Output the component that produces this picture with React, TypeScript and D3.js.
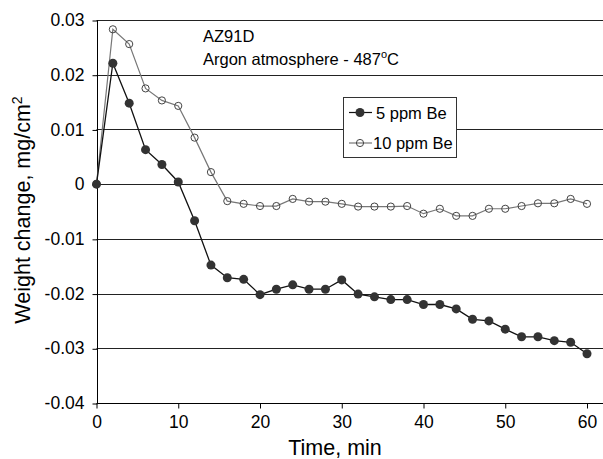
import { useEffect, useRef } from "react";
import * as d3 from "d3";

const times = [0, 2, 4, 6, 8, 10, 12, 14, 16, 18, 20, 22, 24, 26, 28, 30, 32, 34, 36, 38, 40, 42, 44, 46, 48, 50, 52, 54, 56, 58, 60];

const be5 = [
  0, 0.0221, 0.0148, 0.0063, 0.0036, 0.0004, -0.0067, -0.0148, -0.0171, -0.0174, -0.0202,
  -0.0192, -0.0184, -0.0192, -0.0192, -0.0175, -0.0201, -0.0206, -0.0211, -0.0211, -0.022,
  -0.022, -0.0228, -0.0247, -0.025, -0.0265, -0.0279, -0.0279, -0.0286, -0.0289, -0.031,
];

const be10 = [
  0, 0.0283, 0.0256, 0.0175, 0.0153, 0.0143, 0.0085, 0.0022, -0.0031, -0.0036, -0.004,
  -0.004, -0.0027, -0.0032, -0.0032, -0.0036, -0.0041, -0.0041, -0.0041, -0.004, -0.0054,
  -0.0045, -0.0058, -0.0058, -0.0045, -0.0045, -0.004, -0.0035, -0.0035, -0.0027, -0.0036,
];

const xTicks = [0, 10, 20, 30, 40, 50, 60];
const yTicks = [0.03, 0.02, 0.01, 0, -0.01, -0.02, -0.03, -0.04];
const yTickLabels = ["0.03", "0.02", "0.01", "0", "-0.01", "-0.02", "-0.03", "-0.04"];

function App() {
  const ref = useRef<SVGSVGElement>(null);

  useEffect(() => {
    const svg = d3.select(ref.current);
    svg.selectAll("*").remove();

    const width = 603;
    const font = "'Liberation Sans', Arial, sans-serif";

    const x = d3.scaleLinear().domain([0, 60]).range([96.5, 587]);
    const y = d3.scaleLinear().domain([-0.04, 0.03]).range([403, 20]);

    // horizontal grid lines
    svg
      .append("g")
      .selectAll("line")
      .data(yTicks.filter((t) => t > -0.04))
      .enter()
      .append("line")
      .attr("x1", x(0))
      .attr("x2", width)
      .attr("y1", (d) => Math.round(y(d)) + 0.5)
      .attr("y2", (d) => Math.round(y(d)) + 0.5)
      .attr("stroke", "#222")
      .attr("stroke-width", 1);

    // y axis
    const yAxis = svg
      .append("g")
      .attr("transform", `translate(${Math.round(x(0)) + 0.5},0)`)
      .call(
        d3
          .axisLeft(y)
          .tickValues(yTicks)
          .tickSize(5)
          .tickPadding(8)
          .tickFormat((_, i) => yTickLabels[i])
      );
    yAxis.select(".domain").attr("stroke", "#000").attr("d", `M0,${y(0.03)}V${y(-0.04)}`);
    yAxis.selectAll(".tick line").attr("stroke", "#000").attr("transform", "translate(0,0.5)");
    yAxis
      .selectAll("text")
      .attr("fill", "#000")
      .style("font-family", font)
      .style("font-size", "17.5px");

    // x axis
    const xAxis = svg
      .append("g")
      .attr("transform", `translate(0,${Math.round(y(-0.04)) + 0.5})`)
      .call(d3.axisBottom(x).tickValues(xTicks).tickSize(5).tickPadding(7).tickFormat(d3.format("d")));
    xAxis.select(".domain").attr("stroke", "#000").attr("d", `M${x(0)},0H${width}`);
    xAxis.selectAll(".tick line").attr("stroke", "#000");
    xAxis
      .selectAll("text")
      .attr("fill", "#000")
      .style("font-family", font)
      .style("font-size", "17.5px");

    const line = d3
      .line<number>()
      .x((_, i) => x(times[i]))
      .y((d) => y(d));

    // 10 ppm series (open)
    svg
      .append("path")
      .datum(be10)
      .attr("fill", "none")
      .attr("stroke", "#777")
      .attr("stroke-width", 1.2)
      .attr("d", line);
    svg
      .append("g")
      .selectAll("circle")
      .data(be10)
      .enter()
      .append("circle")
      .attr("cx", (_, i) => x(times[i]))
      .attr("cy", (d) => y(d))
      .attr("r", 3.6)
      .attr("fill", "none")
      .attr("stroke", "#444")
      .attr("stroke-width", 1);

    // 5 ppm series (filled)
    svg
      .append("path")
      .datum(be5)
      .attr("fill", "none")
      .attr("stroke", "#111")
      .attr("stroke-width", 1.3)
      .attr("d", line);
    svg
      .append("g")
      .selectAll("circle")
      .data(be5)
      .enter()
      .append("circle")
      .attr("cx", (_, i) => x(times[i]))
      .attr("cy", (d) => y(d))
      .attr("r", 4.5)
      .attr("fill", "#333");

    // annotation
    svg
      .append("text")
      .attr("x", 203)
      .attr("y", 42)
      .attr("font-family", font)
      .attr("font-size", 16.5)
      .text("AZ91D");
    const t2 = svg
      .append("text")
      .attr("x", 203)
      .attr("y", 65)
      .attr("font-family", font)
      .attr("font-size", 16.5);
    t2.append("tspan").text("Argon atmosphere - 487");
    t2.append("tspan").attr("dy", -7).attr("font-size", 11).text("o");
    t2.append("tspan").attr("dy", 7).text("C");

    // legend
    const lg = svg.append("g");
    lg.append("rect")
      .attr("x", 343.5)
      .attr("y", 97.5)
      .attr("width", 113)
      .attr("height", 60)
      .attr("fill", "#fff")
      .attr("stroke", "#333");
    const rows = [
      { label: "5 ppm Be", yy: 112.5, filled: true, tx: 376 },
      { label: "10 ppm Be", yy: 143, filled: false, tx: 373 },
    ];
    rows.forEach((r) => {
      lg.append("line")
        .attr("x1", 349)
        .attr("x2", 372)
        .attr("y1", r.yy)
        .attr("y2", r.yy)
        .attr("stroke", r.filled ? "#111" : "#777")
        .attr("stroke-width", 1.2);
      lg.append("circle")
        .attr("cx", 360)
        .attr("cy", r.yy)
        .attr("r", r.filled ? 4.5 : 3.6)
        .attr("fill", r.filled ? "#333" : "none")
        .attr("stroke", r.filled ? "none" : "#444");
      lg.append("text")
        .attr("x", r.tx)
        .attr("y", r.yy + 6)
        .attr("font-family", font)
        .attr("font-size", 16.5)
        .text(r.label);
    });

    // axis titles
    svg
      .append("text")
      .attr("x", 335)
      .attr("y", 455)
      .attr("text-anchor", "middle")
      .attr("font-family", font)
      .attr("font-size", 21.5)
      .text("Time, min");
    const yt = svg
      .append("text")
      .attr("transform", "translate(30,210) rotate(-90)")
      .attr("text-anchor", "middle")
      .attr("font-family", font)
      .attr("font-size", 21.5);
    yt.append("tspan").text("Weight change, mg/cm");
    yt.append("tspan").attr("dy", -8).attr("font-size", 14).text("2");
  }, []);

  return (
    <svg
      ref={ref}
      width={603}
      height={459}
      style={{ position: "absolute", left: 0, top: 0, background: "#fff" }}
    />
  );
}

export default App;
